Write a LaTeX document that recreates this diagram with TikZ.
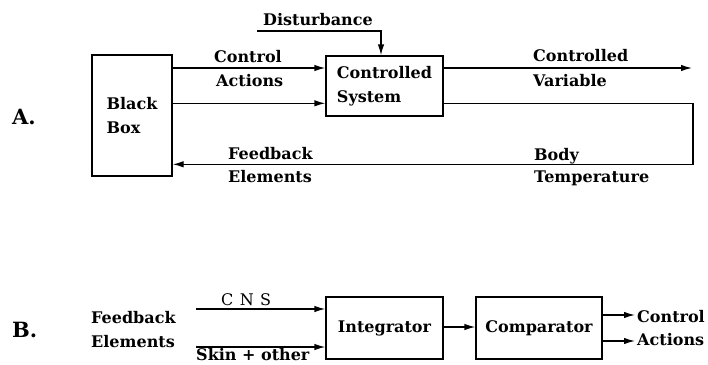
\documentclass[tikz,border=0pt]{standalone}
\usepackage{fontspec}
\setmainfont{DejaVu Serif}
\usetikzlibrary{arrows.meta}
\begin{document}
\begin{tikzpicture}[x=1pt,y=-1pt,
  txt/.style={inner sep=0pt, anchor=base west, font=\bfseries\fontsize{16}{24}\selectfont},
  big/.style={inner sep=0pt, anchor=base west, font=\bfseries\fontsize{21}{24}\selectfont},
  blk/.style={draw, line width=1.3pt, inner sep=0pt, align=left, font=\bfseries\fontsize{16}{24}\selectfont},
  conn/.style={line width=1.3pt, -{Latex[length=11pt,width=6.5pt]}},
  plain/.style={line width=1.3pt}]
\clip (0,0) rectangle (708,364);
% ---------- A ----------
\node[big] (la) at (12,124) {A.};
\node[blk, minimum width=80, minimum height=121] (bb) at (132,115.5) {Black\\Box};
\node[blk, minimum width=117, minimum height=60] (sys) at (384.5,86) {Controlled\\System};
\draw[conn] (bb.east |- 0,68) -- (sys.west |- 0,68);
\draw[conn] (bb.east |- 0,103.3) -- (sys.west |- 0,103.3);
\node[txt] (ca1) at (214,62.3) {Control};
\node[txt] (ca2) at (216,86) {Actions};
\coordinate (d0) at (257,31);
\coordinate (dc) at (381,31);
\draw[conn] (d0) -- (dc) -- (dc |- sys.north);
\node[txt] (dist) at (263,25.7) {Disturbance};
\coordinate (cvend) at (692,68);
\draw[conn] (sys.east |- cvend) -- (cvend);
\node[txt] (cv1) at (533,61.7) {Controlled};
\node[txt] (cv2) at (533,86) {Variable};
\coordinate (fbr) at (693,103.3);
\coordinate (fbb) at (693,164.3);
\draw[conn] (sys.east |- fbr) -- (fbr) -- (fbb) -- (bb.east |- fbb);
\node[txt] (fe1) at (228,159.3) {Feedback};
\node[txt] (fe2) at (228,182.7) {Elements};
\node[txt] (bt1) at (534,160) {Body};
\node[txt] (bt2) at (534,182.7) {Temperature};
% ---------- B ----------
\node[big] (lb) at (12,337) {B.};
\node[txt] (bf1) at (91,323) {Feedback};
\node[txt] (bf2) at (91,347) {Elements};
\node[blk, minimum width=117, minimum height=62] (integ) at (384.5,328) {Integrator};
\node[blk, minimum width=126, minimum height=62] (comp) at (539,328) {Comparator};
\coordinate (cns0) at (196,309);
\coordinate (skin0) at (196,347);
\draw[conn] (cns0) -- (integ.west |- cns0);
\draw[conn] (skin0) -- (integ.west |- skin0);
\node[txt, font=\fontsize{16}{24}\selectfont] (cns) at (221,305) {C\hspace{0.4em}N\hspace{0.4em}S};
\node[txt] (skin) at (196,360) {Skin + other};
\draw[conn] (integ.east |- 0,327) -- (comp.west |- 0,327);
\coordinate (o1) at (635,315);
\coordinate (o2) at (635,341);
\draw[conn] (comp.east |- o1) -- (o1);
\draw[conn] (comp.east |- o2) -- (o2);
\node[txt] (oc1) at (637,322) {Control};
\node[txt] (oc2) at (637,345) {Actions};
\end{tikzpicture}
\end{document}
